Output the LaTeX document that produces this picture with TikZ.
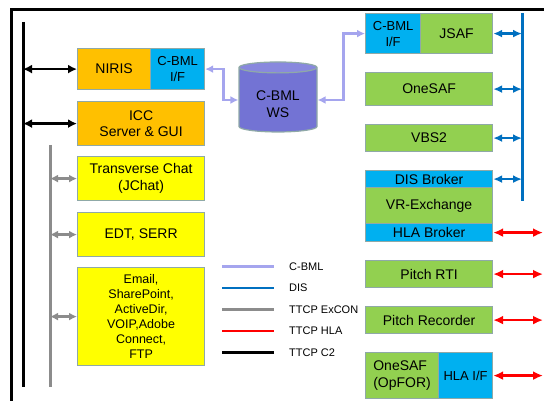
\documentclass[tikz,border=0pt]{standalone}
\usepackage{fontspec}
\setmainfont{Liberation Sans}
\usetikzlibrary{arrows.meta,shapes.geometric}

\definecolor{orangebox}{HTML}{FFC000}
\definecolor{cyanbox}{HTML}{00B0F0}
\definecolor{yellowbox}{HTML}{FFFF00}
\definecolor{greenbox}{HTML}{92D050}
\definecolor{boxline}{HTML}{8FA9A7}
\definecolor{wsfill}{HTML}{7373D4}
\definecolor{wstop}{HTML}{8888DE}
\definecolor{cbmlline}{HTML}{A5A5EE}
\definecolor{disline}{HTML}{0070C0}
\definecolor{exconline}{HTML}{8C8C8C}

\tikzset{
  box/.style={draw=boxline, line width=1.2pt, inner sep=0pt, anchor=north west,
              align=center, font=\fontsize{14}{16.5}\selectfont},
  wh/.style 2 args={minimum width=#1, minimum height=#2},
  small/.style={font=\fontsize{13}{16}\selectfont},
  c2/.style={line width=2.2pt, {Latex[length=9pt,width=9pt]}-{Latex[length=9pt,width=9pt]}},
  excon/.style={line width=2.8pt, exconline, {Latex[length=8pt,width=8pt]}-{Latex[length=8pt,width=8pt]}},
  cbml/.style={line width=2.8pt, cbmlline, {Latex[length=8pt,width=8pt]}-{Latex[length=8pt,width=8pt]}},
  dis/.style={line width=2.6pt, disline, {Latex[length=9pt,width=8pt]}-{Latex[length=9pt,width=8pt]}},
  hla/.style={line width=2.6pt, red, {Latex[length=10pt,width=9pt]}-{Latex[length=10pt,width=9pt]}},
  legtext/.style={anchor=west, inner sep=0pt, font=\fontsize{11}{13}\selectfont},
}

\begin{document}
\begin{tikzpicture}[x=1pt,y=-1pt]

   \useasboundingbox (0,0) rectangle (544,401);

   % Frame
   \draw[line width=3pt] (544,10) -- (11.5,10) -- (11.5,401);

   % Buses
   \coordinate (c2top) at (23,22);
   \coordinate (c2bot) at (23,387);
   \coordinate (extop) at (50,145);
   \coordinate (exbot) at (50,387);
   \coordinate (distop) at (522,13);
   \coordinate (disbot) at (522,201);
   \coordinate (hlaend) at (543,0);
   \draw[line width=3pt] (c2top) -- (c2bot);
   \draw[line width=3pt, exconline] (extop) -- (exbot);
   \draw[line width=3pt, disline] (distop) -- (disbot);

   % Left column
   \node[box, wh={73}{41}, fill=orangebox] (niris) at (77,48) {NIRIS};
   \node[box, small, wh={54}{41}, fill=cyanbox] (cbmlA) at (150,48) {C-BML\\I/F};
   \node[box, wh={127}{44}, fill=orangebox] (icc) at (77,101) {ICC\\Server \& GUI};
   \node[box, wh={127}{44}, fill=yellowbox] (chat) at (77,156) {Transverse Chat\\(JChat)};
   \node[box, wh={127}{44}, fill=yellowbox] (edt) at (77,212) {EDT, SERR};
   \node[box, wh={127}{98}, fill=yellowbox, font=\fontsize{12.5}{15}\selectfont] (misc) at (77,267)
        {Email,\\SharePoint,\\ActiveDir,\\VOIP,Adobe\\Connect,\\FTP};

   % Web service
   \node[cylinder, shape border rotate=90, aspect=0.25, draw=boxline, line width=1.2pt,
         cylinder uses custom fill, cylinder body fill=wsfill, cylinder end fill=wstop,
         minimum width=78pt, minimum height=70pt, inner sep=0pt,
         font=\fontsize{14}{17}\selectfont] (ws) at (278,100)
        {\raisebox{-6pt}[\height][\depth]{\begin{tabular}{@{}c@{}}C-BML\\WS\end{tabular}}};

   % Right column
   \node[box, small, wh={55}{40}, fill=cyanbox] (cbmlB) at (365,13) {C-BML\\I/F};
   \node[box, wh={72}{40}, fill=greenbox] (jsaf) at (420,13) {JSAF};
   \node[box, wh={127}{33}, fill=greenbox] (onesaf) at (365,72) {OneSAF};
   \node[box, wh={127}{27}, fill=greenbox] (vbs) at (365,124) {VBS2};
   \node[box, wh={127}{17}, fill=cyanbox] (disb) at (365,170) {DIS Broker};
   \node[box, wh={127}{36}, fill=greenbox] (vrx) at (365,187) {VR-Exchange};
   \node[box, wh={127}{18}, fill=cyanbox] (hlab) at (365,223) {HLA Broker};
   \node[box, wh={127}{27}, fill=greenbox] (rti) at (365,260) {Pitch RTI};
   \node[box, wh={127}{27}, fill=greenbox] (rec) at (365,306) {Pitch Recorder};
   \node[box, wh={73}{46}, fill=greenbox, align=left] (opfor) at (365,352) {OneSAF\\(OpFOR)};
   \node[box, small, wh={54}{46}, fill=cyanbox] (hlaif) at (438,352) {HLA I/F};

   % Links
   \foreach \n in {niris,icc}
       \draw[c2] (\n.west -| c2top) -- (\n.west);
   \foreach \n in {chat,edt,misc}
       \draw[excon] (\n.west -| extop) -- (\n.west);
   \foreach \n in {jsaf,onesaf,vbs,disb}
       \draw[dis] (\n.east) -- (\n.east -| distop);
   \foreach \n in {hlab,rti,rec,hlaif}
       \draw[hla] (\n.east) -- (\n.east -| hlaend);

   \draw[cbml] (cbmlA.east) -- ++(18,0) |- (ws.west);
   \draw[cbml] (ws.east) -- ++(26,0) |- (cbmlB.west);

   % Legend
   \foreach \c/\t [count=\i] in {cbmlline/C-BML, disline/DIS, exconline/TTCP ExCON,
                                 red/TTCP HLA, black/TTCP C2}
   {
       \coordinate (legA\i) at (222,{245+21.5*\i});
       \coordinate (legB\i) at (274,{245+21.5*\i});
       \draw[line width=2.8pt, \c] (legA\i) -- (legB\i);
       \node[legtext] (leg\i) at (289,{245+21.5*\i}) {\t};
   }

\end{tikzpicture}
\end{document}
